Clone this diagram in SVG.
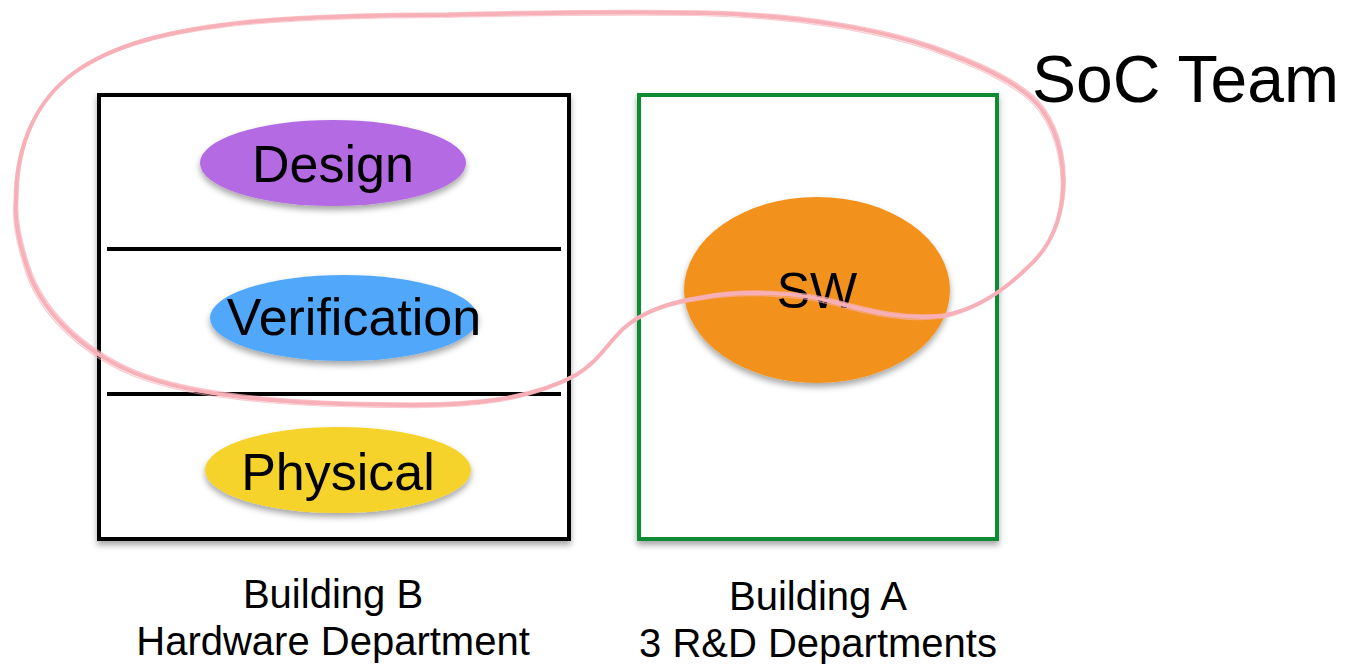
<svg xmlns="http://www.w3.org/2000/svg" xmlns:xlink="http://www.w3.org/1999/xlink" width="1345" height="664" viewBox="0 0 1345 664">
  <style>
    text { font-family: "Liberation Sans", Arial, sans-serif; fill: #000; }
    .unit { font-size: 52px; text-anchor: middle; }
    .caption { font-size: 40px; text-anchor: middle; }
    .building { fill: #fff; stroke-width: 4; filter: url(#shadow); }
    .divider { stroke: #000; stroke-width: 4; }
    .loop { fill: none; stroke: #f8b0b8; stroke-linecap: round; stroke-linejoin: round; }
  </style>
  <defs>
    <filter id="shadow" x="-10%" y="-10%" width="120%" height="130%">
      <feDropShadow dx="0" dy="4" stdDeviation="3" flood-color="#000" flood-opacity="0.35"/>
    </filter>
    <!-- hand-drawn outline of the SoC team grouping -->
    <path id="soc-loop" d="M 446,15 C 530,13 620,12 700,13 C 800,15 880,30 930,47 C 980,65 1025,85 1042,110 C 1060,135 1066,170 1062,200 C 1058,230 1045,252 1028,267 C 1005,290 975,310 942,316 C 905,320 870,312 837,303 C 800,292 740,290 700,298 C 665,303 640,314 624,328 C 606,345 598,362 576,375 C 530,400 470,406 402,405 C 310,405 200,400 134,373 C 80,350 40,310 27,267 C 18,240 14,220 16,200 C 16,145 36,100 75,72 C 115,44 170,30 250,22 C 320,16 380,15 446,15 Z"/>
  </defs>

  <rect width="1345" height="664" fill="#fff"/>

  <!-- Building B: hardware department -->
  <g id="building-b">
    <rect class="building" x="99" y="95" width="470" height="444" stroke="#000"/>
    <line class="divider" x1="107" y1="249" x2="561" y2="249"/>
    <line class="divider" x1="107" y1="394" x2="561" y2="394"/>
  </g>

  <g id="design">
    <ellipse cx="333" cy="163" rx="133" ry="43" fill="#b36ae2" filter="url(#shadow)"/>
    <text class="unit" x="333" y="182">Design</text>
  </g>

  <g id="verification">
    <ellipse cx="344" cy="318" rx="134" ry="43" fill="#51a7f9" filter="url(#shadow)"/>
    <text class="unit" x="354" y="335">Verification</text>
  </g>

  <g id="physical">
    <ellipse cx="338" cy="470" rx="133" ry="43" fill="#f5d32c" filter="url(#shadow)"/>
    <text class="unit" x="338" y="490">Physical</text>
  </g>

  <!-- Building A: R&D departments -->
  <g id="building-a">
    <rect class="building" x="639" y="95" width="358" height="444" stroke="#0c8a32"/>
  </g>

  <g id="sw">
    <ellipse cx="817" cy="290" rx="133" ry="93" fill="#f2921e" filter="url(#shadow)"/>
    <text class="unit" x="817" y="308" style="font-size:50px">SW</text>
  </g>

  <g id="labels">
    <text class="caption" x="333" y="608">Building B</text>
    <text class="caption" x="333" y="655">Hardware Department</text>
    <text class="caption" x="818" y="610">Building A</text>
    <text class="caption" x="818" y="657">3 R&amp;D Departments</text>
  </g>

  <!-- SoC team: sketched loop drawn over the buildings -->
  <g id="soc-team">
    <use xlink:href="#soc-loop" class="loop" stroke-width="4"/>
    <use xlink:href="#soc-loop" class="loop" stroke-width="1.5" opacity="0.75" transform="translate(2,-2)"/>
    <use xlink:href="#soc-loop" class="loop" stroke-width="1.2" opacity="0.65" transform="translate(-2,2.5)"/>
    <text x="1032" y="102" style="font-size:66px">SoC Team</text>
  </g>
</svg>
